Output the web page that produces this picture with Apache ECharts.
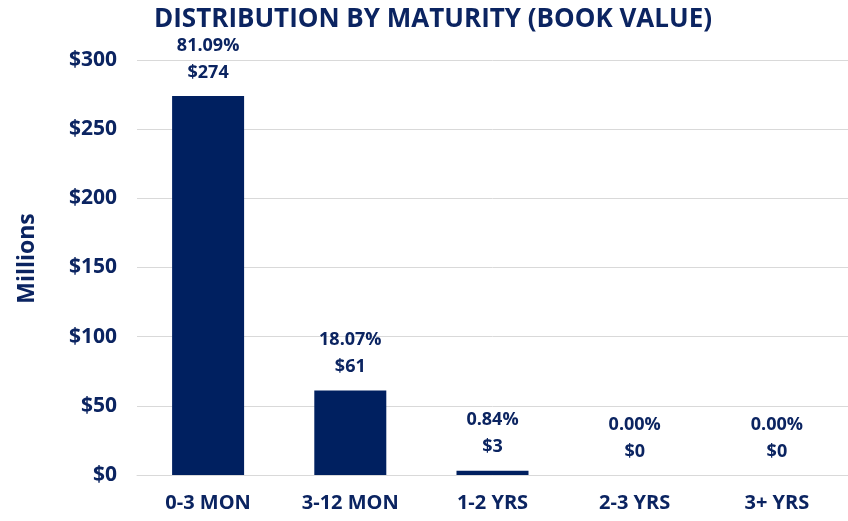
<!DOCTYPE html>
<html>
<head>
<meta charset="utf-8">
<script src="https://cdn.jsdelivr.net/npm/echarts@6/dist/echarts.min.js"></script>
<style>
  html, body { margin: 0; padding: 0; background: #fff; }
  #main { width: 848px; height: 521px; }
</style>
</head>
<body>
<div id="main"></div>
<script>
const categories = ["0-3 MON", "3-12 MON", "1-2 YRS", "2-3 YRS", "3+ YRS"];
const values = [274, 61, 3, 0, 0];       // $ millions, book value
const percents = ["81.09%", "18.07%", "0.84%", "0.00%", "0.00%"];

const navy = "#0B2461";
const font = "Open Sans";

const chart = echarts.init(document.getElementById("main"), null, { renderer: "canvas" });

const option = {
  animation: false,
  title: {
    text: "DISTRIBUTION BY MATURITY (BOOK VALUE)",
    left: 428,
    textAlign: "center",
    top: 2,
    textStyle: { fontFamily: font, fontWeight: "bold", fontSize: 26, color: navy }
  },
  grid: { left: 137, right: 0, top: 60, bottom: 46 },
  xAxis: {
    type: "category",
    data: categories,
    axisLine: { lineStyle: { color: "#D9D9D9", width: 1 } },
    axisTick: { show: false },
    axisLabel: { fontFamily: font, fontWeight: "bold", fontSize: 20, color: navy, margin: 18 }
  },
  yAxis: {
    type: "value",
    min: 0,
    max: 300,
    interval: 50,
    name: "Millions",
    nameLocation: "middle",
    nameGap: 98,
    nameTextStyle: {
      fontFamily: font, fontWeight: "bold", fontSize: 23, color: navy,
      padding: [0, 0, 0, 18]
    },
    axisLine: { show: false },
    axisTick: { show: false },
    splitLine: { lineStyle: { color: "#D9D9D9", width: 1 } },
    axisLabel: {
      fontFamily: font, fontWeight: "bold", fontSize: 21, color: navy, margin: 20,
      formatter: v => "$" + v
    }
  },
  series: [{
    type: "bar",
    data: values,
    barWidth: 72,
    itemStyle: { color: "#002060" },
    label: {
      show: true,
      position: "top",
      distance: 10,
      fontFamily: font,
      fontWeight: "bold",
      fontSize: 18,
      lineHeight: 27,
      color: navy,
      formatter: p => percents[p.dataIndex] + "\n$" + p.value
    }
  }]
};

chart.setOption(option);
</script>
</body>
</html>
